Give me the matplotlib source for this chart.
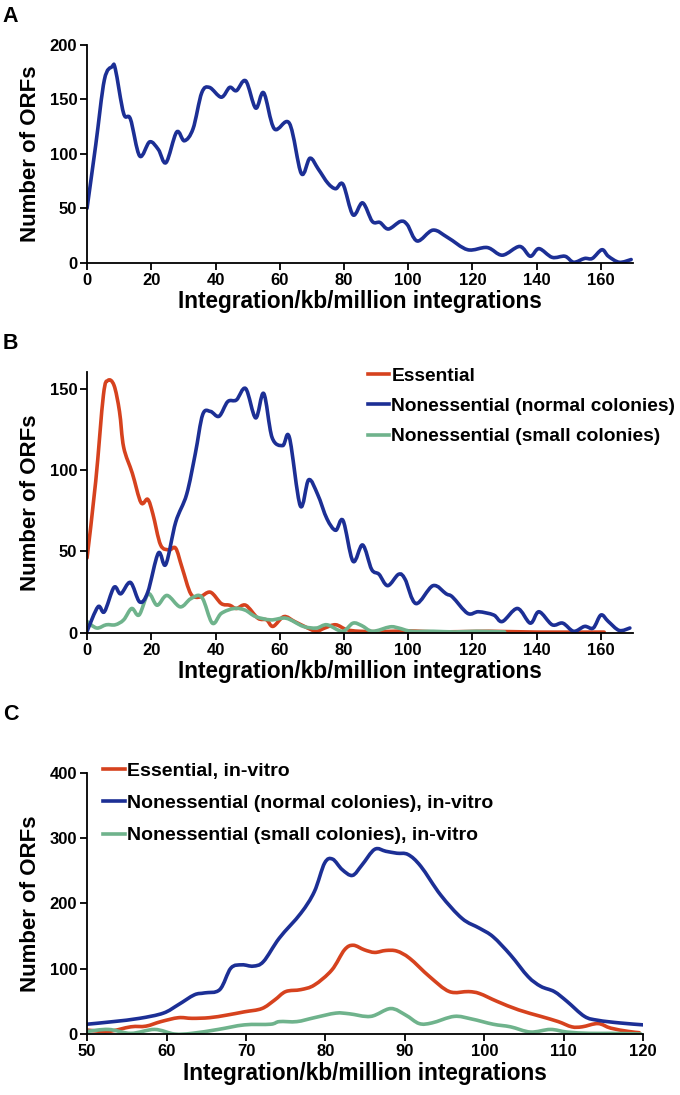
import numpy as np
import matplotlib
matplotlib.use('Agg')
import matplotlib.pyplot as plt
from matplotlib.path import Path
from matplotlib.patches import PathPatch
from matplotlib.lines import Line2D

# colours
blue = '#1c2f95'
red = '#d6421e'
green = '#6fb38c'

font = ['Liberation Sans', 'DejaVu Sans']

# --- Panel A: all ORFs ---
a_x = [0, 2.7, 5.4, 7.8, 8.8, 11.4, 13.5, 16.4, 19.5, 22.2, 24.6, 27.9, 30.3, 33, 35.7, 38.1,
       41.8, 44.4, 46.5, 49.4, 52.5, 55, 58.3, 63, 66.7, 69.4, 72, 75, 77.4, 79.7, 82.8, 85.8,
       88.8, 91.2, 93.8, 97.6, 99.7, 102.8, 107.7, 112.4, 118.5, 124.6, 129.3, 134.7, 138,
       140.7, 144.8, 148.8, 151.5, 154.9, 157.3, 160.3, 162.3, 165.7, 169.4]
a_y = [50, 108, 168, 180, 178, 137, 132, 98, 111, 104, 92, 120, 112, 123, 156, 161,
       152, 161, 158, 167, 142, 156, 123, 128, 82, 96, 86, 73, 68, 72, 44, 55,
       38, 37, 31, 38, 35, 20, 30, 23, 12, 14, 7, 15, 6,
       13, 5, 6, 0.5, 4, 4, 12, 6, 0.5, 3]

# --- Panel B ---
b_ess_x = [0, 2.7, 5.1, 6.5, 8.4, 10.1, 11.4, 14.1, 16.8, 18.9, 20.5, 22.9, 25.6, 27.6, 29.6,
           32.3, 35, 38.4, 41.8, 44.4, 46.5, 49.4, 53.2, 55.9, 57.9, 61.3, 64.6, 68.7, 71.4,
           74, 77.4, 80.8, 84.8, 92, 100, 110, 125, 140, 161]
b_ess_y = [46, 93, 146, 155, 152, 136, 114, 98, 80, 82, 73, 54, 51, 52, 40,
           24, 22, 25, 18, 17, 15, 17, 9, 8, 4, 10, 7, 3, 1,
           3, 5, 2, 1, 0.8, 1.2, 0.6, 1, 0.5, 0.5]

b_norm_x = [0, 3.4, 5.4, 8.4, 10.5, 13.5, 16.4, 18.9, 22.2, 24.5, 27.6, 31, 33.7, 36, 38.4,
            41.1, 43.8, 46.5, 49.4, 52.5, 55, 57.6, 60.9, 63, 66.4, 69, 71.8, 74.7, 77.4,
            79.7, 82.8, 85.8, 88.6, 90.9, 93.6, 97, 99, 102.4, 107.7, 111.8, 113.8, 118.5,
            121.9, 126.6, 129.3, 134, 138, 140.7, 144.8, 148.1, 151.5, 154.9, 157.6, 160,
            162.3, 165.7, 169]
b_norm_y = [1, 16, 13, 28, 24, 31, 19, 25, 49, 42, 68, 85, 110, 134, 136,
            133, 142, 143, 150, 132, 147, 120, 115, 120, 78, 94, 85, 70, 63,
            69, 44, 54, 39, 36, 29, 36, 33, 18, 29, 24, 22, 12,
            13, 11, 7, 15, 6, 13, 5, 6, 1, 4, 3, 11,
            7, 1.5, 3]

b_small_x = [0, 3, 6, 8.8, 11.4, 13.9, 16.2, 19.1, 21.8, 24.9, 29, 32.3, 35.7, 39, 41.8,
             45.8, 49.2, 52.5, 57.2, 62, 67.3, 71.4, 74.7, 79.5, 82.8, 85.5, 88.9, 94.3,
             97, 101, 107.7, 114.5, 121.2, 130]
b_small_y = [7, 3, 5, 5, 8, 15, 11, 24, 17, 23, 16, 21, 22, 6, 12,
             15, 14, 10, 8, 9, 4, 3, 5, 1, 6, 4.5, 1, 3.7,
             3, 1, 1, 0.6, 1, 0.6]

# --- Panel C: in-vitro ---
c_norm_x = [50, 53.3, 56.6, 59.6, 61.5, 63.5, 64.8, 66.7, 68.1, 69.5, 70.9, 72.2, 74.2, 76.9,
            78.6, 79.9, 80.9, 82.1, 83.4, 84.6, 86.2, 87.6, 89, 90.4, 92, 94.5, 97.2, 99.4,
            101.1, 103.3, 105.5, 107.1, 108.8, 110.4, 112.6, 114.3, 117, 120]
c_norm_y = [15, 19, 24, 32, 45, 60, 63, 68, 101, 106, 104, 111, 147, 185,
            218, 262, 268, 252, 243, 259, 283, 280, 277, 275, 257, 213, 177, 162,
            149, 121, 88, 73, 65, 50, 27, 21, 17, 14]

c_ess_x = [50, 52.7, 55.5, 57.4, 59.3, 61.5, 63.2, 65.4, 67.6, 69.8, 72, 73.6, 75, 76.9, 78.6,
           80.8, 82.4, 83.5, 84.9, 86.2, 87.6, 89, 90.6, 93.1, 95.6, 98, 99.4, 101.6, 104.3,
           107.1, 109.3, 111, 112.3, 114.3, 115.9, 118.1, 119.5]
c_ess_y = [6, 4, 11, 12, 19, 25, 24, 25, 29, 34, 39, 52, 65, 68, 75,
           98, 129, 136, 129, 125, 128, 127, 116, 88, 65, 65, 62, 50, 37,
           27, 19, 11, 11, 16, 9, 4, 2]

c_small_x = [50, 52.7, 55.5, 58.5, 61, 63.2, 66.5, 69.8, 73.1, 74.2, 76.4, 78.6, 81.3, 83, 85.7,
             88.2, 90.1, 91.8, 93.4, 96.2, 98.4, 101.1, 103.3, 105.8, 108.3, 110.4, 113.2,
             115.9, 119.7]
c_small_y = [4, 7, 1, 7, 0, 1, 7, 14, 15, 19, 19, 25, 32, 31, 27,
             39, 29, 16, 17, 27, 23, 15, 11, 3, 7, 3, 1,
             1, 0]


def smooth_line(ax, xs, ys, color):
    # Excel-style smoothed line: Catmull-Rom converted to cubic Bezier segments
    pts = np.column_stack([xs, ys]).astype(float)
    n = len(pts)
    verts = [pts[0]]
    codes = [Path.MOVETO]
    for i in range(n - 1):
        p0 = pts[max(i - 1, 0)]
        p1 = pts[i]
        p2 = pts[i + 1]
        p3 = pts[min(i + 2, n - 1)]
        verts += [p1 + (p2 - p0) / 6.0, p2 - (p3 - p1) / 6.0, p2]
        codes += [Path.CURVE4] * 3
    patch = PathPatch(Path(verts, codes), fill=False, edgecolor=color, lw=2.6,
                      capstyle='round', joinstyle='round')
    ax.add_patch(patch)


def style_axes(ax, xlim, xticks, ylim, yticks):
    ax.set_xlim(*xlim)
    ax.set_ylim(*ylim)
    ax.set_xticks(xticks)
    ax.set_yticks(yticks)
    for s in ['top', 'right']:
        ax.spines[s].set_visible(False)
    for s in ['left', 'bottom']:
        ax.spines[s].set_linewidth(1.3)
    ax.tick_params(direction='out', length=5, width=1.3, pad=2)
    for lab in ax.get_xticklabels() + ax.get_yticklabels():
        lab.set_family(font)
        lab.set_fontweight('bold')
        lab.set_fontsize(12)
    ax.set_xlabel('Integration/kb/million integrations', family=font, fontweight='bold',
                  fontsize=16.3, labelpad=2)
    ax.set_ylabel('Number of ORFs', family=font, fontweight='bold', fontsize=16, labelpad=6)


fig = plt.figure(figsize=(6.8, 10.95), dpi=100)

# A
axA = fig.add_axes([0.128, 0.760, 0.803, 0.199])
smooth_line(axA, a_x, a_y, blue)
style_axes(axA, (0, 170), range(0, 161, 20), (0, 200), range(0, 201, 50))

# B
axB = fig.add_axes([0.128, 0.422, 0.803, 0.238])
smooth_line(axB, b_ess_x, b_ess_y, red)
smooth_line(axB, b_small_x, b_small_y, green)
smooth_line(axB, b_norm_x, b_norm_y, blue)
style_axes(axB, (0, 170), range(0, 161, 20), (0, 160), range(0, 151, 50))
hB = [Line2D([], [], color=c, lw=2.6) for c in (red, blue, green)]
axB.legend(hB, ['Essential', 'Nonessential (normal colonies)', 'Nonessential (small colonies)'],
           loc='upper left', bbox_to_anchor=(0.50, 1.047), frameon=False, handlelength=1.13,
           handletextpad=0.1, labelspacing=0.66, borderaxespad=0,
           prop={'family': font, 'weight': 'bold', 'size': 13.8})

# C
axC = fig.add_axes([0.128, 0.0557, 0.818, 0.2384])
smooth_line(axC, c_ess_x, c_ess_y, red)
smooth_line(axC, c_small_x, c_small_y, green)
smooth_line(axC, c_norm_x, c_norm_y, blue)
style_axes(axC, (50, 120), range(50, 121, 10), (0, 400), range(0, 401, 100))
hC = [Line2D([], [], color=c, lw=2.6) for c in (red, blue, green)]
axC.legend(hC, ['Essential, in-vitro', 'Nonessential (normal colonies), in-vitro',
                'Nonessential (small colonies), in-vitro'],
           loc='upper left', bbox_to_anchor=(0.0145, 1.072), frameon=False, handlelength=1.13,
           handletextpad=0.1, labelspacing=0.76, borderaxespad=0,
           prop={'family': font, 'weight': 'bold', 'size': 14})

# panel letters
for letter, ypix in [('A', 16), ('B', 343), ('C', 714)]:
    fig.text(0.004, 1 - ypix / 1095, letter, family=font, fontweight='bold', fontsize=15.5,
             va='center', ha='left')

fig.savefig('out.png', dpi=100)
